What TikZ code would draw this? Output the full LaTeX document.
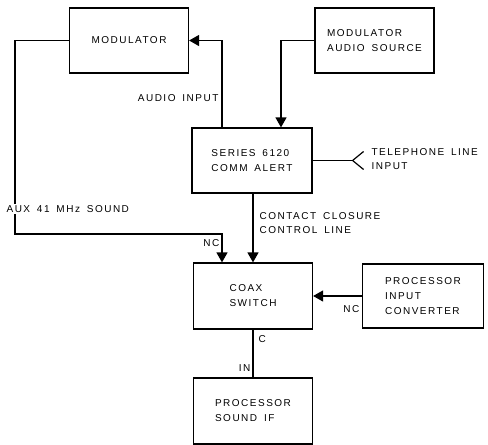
\documentclass[tikz,border=0pt]{standalone}
\usepackage{fontspec}
\newfontfamily\lblfont[LetterSpace=15,WordSpace=1.6]{Liberation Sans}
\usetikzlibrary{arrows.meta}
\tikzset{
  blk/.style={draw, line width=1.2pt, minimum width=119pt, minimum height=65pt,
    align=left, font=\lblfont\fontsize{10}{15}\selectfont},
  lbl/.style={font=\lblfont\fontsize{10}{14}\selectfont, align=left, inner sep=1pt},
  arr/.style={-{Triangle[length=10pt,width=11pt]}},
}
\begin{document}
\begin{tikzpicture}[x=1pt,y=-1pt,line width=1.2pt]
\useasboundingbox (0,0) rectangle (488,445);
% 方框
\node[blk] (mod) at (129,40.5) {MODULATOR};
\node[blk] (src) at (374.5,40.5) {MODULATOR\\AUDIO SOURCE};
\node[blk, minimum width=120pt] (alert) at (252,160.5) {SERIES 6120\\COMM ALERT};
\node[blk, minimum height=66pt] (coax) at (253,296) {COAX\\SWITCH};
\node[blk, minimum width=121pt, minimum height=64pt] (conv) at (423,296) {PROCESSOR\\INPUT\\CONVERTER};
\node[blk, minimum height=66pt] (sif) at (253,411) {PROCESSOR\\SOUND IF};
% 连线
\coordinate (auxbend) at (15,234);
\draw[arr] (src.west) -| ([xshift=29pt]alert.north);
\draw[arr] ([xshift=-30pt]alert.north) |- (mod.east);
\draw[arr] (mod.west) -| (auxbend) -| ([xshift=-31pt]coax.north);
\draw[arr] (alert.south -| coax.north) -- (coax.north);
\draw[arr] (conv.west) -- (coax.east);
\draw (coax.south) -- (sif.north);
\draw (alert.east) -- ++(40,0) coordinate (fork);
\draw (fork) -- ++(11,-9) coordinate (forkup);
\draw (fork) -- ++(11,9) coordinate (forkdn);
% 标注
\node[lbl, anchor=east] (ain) at (220,98) {AUDIO INPUT};
\node[lbl, anchor=west, fill=white] (aux) at (5,209) {AUX 41 MHz SOUND};
\node[lbl, anchor=east] (nc1) at (221,243) {NC};
\node[lbl, anchor=west] (ccl) at (258,223.5) {CONTACT CLOSURE\\CONTROL LINE};
\node[lbl, anchor=east] (nc2) at (361,309) {NC};
\node[lbl, anchor=west] (cpin) at (257,339) {C};
\node[lbl, anchor=east] (inpin) at (252,368) {IN};
\node[lbl, anchor=west] (tel) at (370,159) {TELEPHONE LINE\\INPUT};
\end{tikzpicture}
\end{document}
